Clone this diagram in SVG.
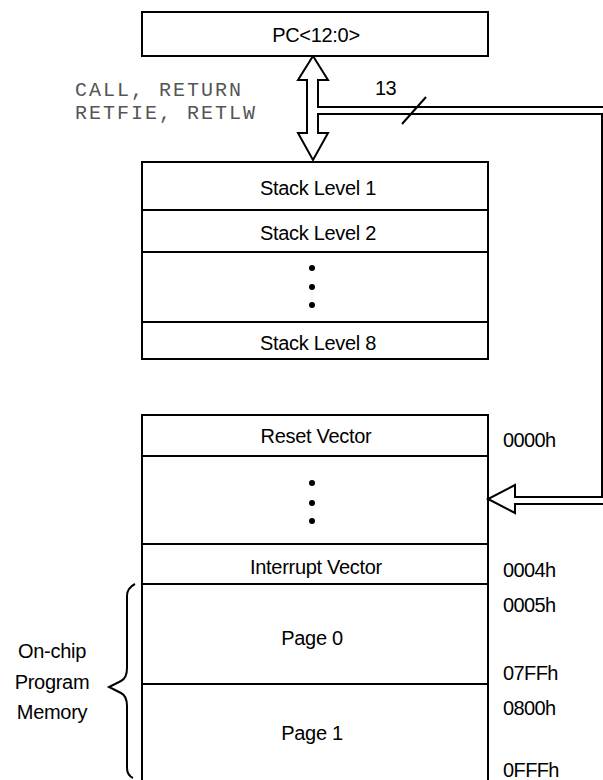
<svg xmlns="http://www.w3.org/2000/svg" width="603" height="780" viewBox="0 0 603 780">
  <style>
    .box { fill: #fff; stroke: #000; stroke-width: 2; }
    .sep { stroke: #000; stroke-width: 2; fill: none; }
    .lbl { font-family: "Liberation Sans", Arial, sans-serif; font-size: 20px; fill: #000; text-anchor: middle; letter-spacing: -0.3px; }
    .addr { font-family: "Liberation Sans", Arial, sans-serif; font-size: 20px; fill: #000; letter-spacing: -0.6px; }
    .mono { font-family: "Liberation Mono", "Courier New", monospace; font-size: 20px; fill: #555; letter-spacing: 2px; }
    .bus { fill: none; stroke: #000; stroke-width: 2; stroke-linejoin: miter; }
    .dot { fill: #000; }
  </style>

  <!-- program counter -->
  <g id="pc">
    <rect class="box" x="142" y="12" width="346" height="44"/>
    <text class="lbl" x="316" y="42">PC&lt;12:0&gt;</text>
  </g>

  <!-- hardware stack -->
  <g id="stack">
    <rect class="box" x="142" y="162" width="346" height="197"/>
    <line class="sep" x1="142" y1="210" x2="488" y2="210"/>
    <line class="sep" x1="142" y1="252" x2="488" y2="252"/>
    <line class="sep" x1="142" y1="322" x2="488" y2="322"/>
    <text class="lbl" x="318" y="195">Stack Level 1</text>
    <text class="lbl" x="318" y="240">Stack Level 2</text>
    <circle class="dot" cx="312" cy="268" r="3"/>
    <circle class="dot" cx="312" cy="287" r="3"/>
    <circle class="dot" cx="312" cy="305" r="3"/>
    <text class="lbl" x="318" y="350">Stack Level 8</text>
  </g>

  <!-- program memory map -->
  <g id="memory">
    <rect class="box" x="142" y="415" width="346" height="380"/>
    <line class="sep" x1="142" y1="456" x2="488" y2="456"/>
    <line class="sep" x1="142" y1="544" x2="488" y2="544"/>
    <line class="sep" x1="142" y1="584" x2="488" y2="584"/>
    <line class="sep" x1="142" y1="684" x2="488" y2="684"/>
    <text class="lbl" x="316" y="443">Reset Vector</text>
    <circle class="dot" cx="312" cy="483" r="3"/>
    <circle class="dot" cx="312" cy="503" r="3"/>
    <circle class="dot" cx="312" cy="521" r="3"/>
    <text class="lbl" x="316" y="574">Interrupt Vector</text>
    <text class="lbl" x="312" y="645">Page 0</text>
    <text class="lbl" x="312" y="740">Page 1</text>
  </g>

  <!-- addresses -->
  <g id="addresses">
    <text class="addr" x="503" y="447">0000h</text>
    <text class="addr" x="503" y="577">0004h</text>
    <text class="addr" x="503" y="612">0005h</text>
    <text class="addr" x="503" y="680">07FFh</text>
    <text class="addr" x="503" y="715">0800h</text>
    <text class="addr" x="503" y="777">0FFFh</text>
  </g>

  <!-- on-chip memory brace -->
  <g id="onchip">
    <path class="sep" stroke-width="1.6" d="M135,584 Q127,588 127,596 L127,668 Q127,678 121,681 L109,687 L121,693 Q127,696 127,706 L127,768 Q127,775 133,778"/>
    <text class="lbl" x="52" y="658" letter-spacing="0">On-chip</text>
    <text class="lbl" x="52" y="689" letter-spacing="0">Program</text>
    <text class="lbl" x="52" y="719" letter-spacing="0">Memory</text>
  </g>

  <!-- buses -->
  <g id="connectors">
    <path class="bus" d="M313,56 L298,80 L307,80 L307,133 L298,133 L313,160 L328,133 L318,133 L318,114 L602,114 L602,497 L515,497 L515,485 L488,499 L515,513 L515,504 L612,504"/>
    <path class="bus" d="M313,56 L328,80 L318,80 L318,107 L612,107"/>
    <line class="sep" stroke-width="1.6" x1="402" y1="124" x2="426" y2="97"/>
    <text class="addr" x="375" y="95">13</text>
    <text class="mono" x="75" y="96">CALL, RETURN</text>
    <text class="mono" x="75" y="119">RETFIE, RETLW</text>
  </g>
</svg>
